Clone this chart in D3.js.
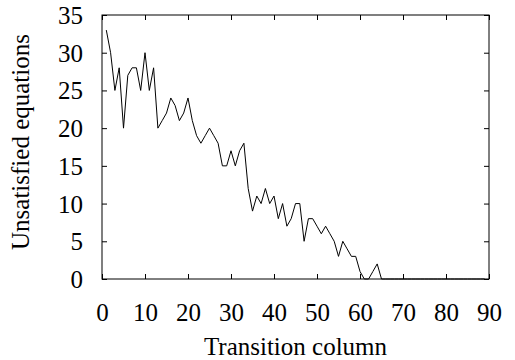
<!DOCTYPE html>
<html>
<head>
<meta charset="utf-8">
<script src="https://cdn.jsdelivr.net/npm/d3@7"></script>
<style>
    body { margin: 0; background: #fff; }
</style>
</head>
<body>
<div id="chart"></div>
<script>
// unsatisfied equations per transition column, starting at column 1
const unsatisfied = [
    33, 30, 25, 28, 20, 27, 28, 28, 25, 30,
    25, 28, 20, 21, 22, 24, 23, 21, 22, 24,
    21, 19, 18, 19, 20, 19, 18, 15, 15, 17,
    15, 17, 18, 12, 9, 11, 10, 12, 10, 11,
    8, 10, 7, 8, 10, 10, 5, 8, 8, 7,
    6, 7, 6, 5, 3, 5, 4, 3, 3, 1,
    0, 0, 1, 2, 0, 0, 0, 0, 0, 0,
    0, 0, 0, 0, 0, 0, 0, 0, 0, 0,
    0, 0, 0, 0, 0, 0, 0, 0, 0
];
const xTicks = [0, 10, 20, 30, 40, 50, 60, 70, 80, 90];
const yTicks = [0, 5, 10, 15, 20, 25, 30, 35];
const xTitle = "Transition column";
const yTitle = "Unsatisfied equations";

const W = 515, H = 360;
const margin = {top: 15, right: 26, bottom: 81, left: 102};
const width = W - margin.left - margin.right;
const height = H - margin.top - margin.bottom;
const fontFamily = "Liberation Serif, Tinos, Times New Roman, DejaVu Serif, serif";
const fontSize = 25;
const tickLen = 5;

let svg = d3.select("#chart").append("svg")
    .attr("width", W)
    .attr("height", H);

let g = svg.append("g")
    .attr("transform", "translate(" + margin.left + "," + margin.top + ")");

let xSc = d3.scaleLinear().domain([0, 90]).range([0, width]);
let ySc = d3.scaleLinear().domain([0, 35]).range([height, 0]);

// ticks pointing inward on all four sides (gnuplot look)
function styleAxis(sel) {
    sel.select(".domain").remove();
    sel.selectAll("line").attr("stroke", "#000").attr("stroke-width", 1);
    sel.attr("font-family", fontFamily).attr("font-size", fontSize);
    sel.selectAll("text").attr("fill", "#000");
}

g.append("g")
    .attr("transform", "translate(0," + height + ")")
    .call(d3.axisBottom(xSc).tickValues(xTicks).tickSize(-tickLen).tickPadding(24))
    .call(styleAxis)
    .selectAll("text")
    .attr("dy", "0.71em");

g.append("g")
    .call(d3.axisTop(xSc).tickValues(xTicks).tickSize(-tickLen).tickFormat(""))
    .call(styleAxis);

g.append("g")
    .call(d3.axisLeft(ySc).tickValues(yTicks).tickSize(-tickLen).tickPadding(19))
    .call(styleAxis)
    .selectAll("text")
    .attr("dy", "0.34em");

g.append("g")
    .attr("transform", "translate(" + width + ",0)")
    .call(d3.axisRight(ySc).tickValues(yTicks).tickSize(-tickLen).tickFormat(""))
    .call(styleAxis);

// frame
g.append("rect")
    .attr("x", 0)
    .attr("y", 0)
    .attr("width", width)
    .attr("height", height)
    .attr("fill", "none")
    .attr("stroke", "#000")
    .attr("stroke-width", 1);

let line = d3.line()
    .x((d, i) => xSc(i + 1))
    .y(d => ySc(d));

g.append("path")
    .datum(unsatisfied)
    .attr("fill", "none")
    .attr("stroke", "#000")
    .attr("stroke-width", 1)
    .attr("d", line);

// axis titles
svg.append("text")
    .attr("x", margin.left + width / 2)
    .attr("y", 355)
    .attr("text-anchor", "middle")
    .attr("font-family", fontFamily)
    .attr("font-size", fontSize)
    .text(xTitle);

svg.append("text")
    .attr("transform", "translate(29," + (margin.top + height / 2 - 5) + ") rotate(-90)")
    .attr("text-anchor", "middle")
    .attr("font-family", fontFamily)
    .attr("font-size", fontSize)
    .text(yTitle);
</script>
</body>
</html>
